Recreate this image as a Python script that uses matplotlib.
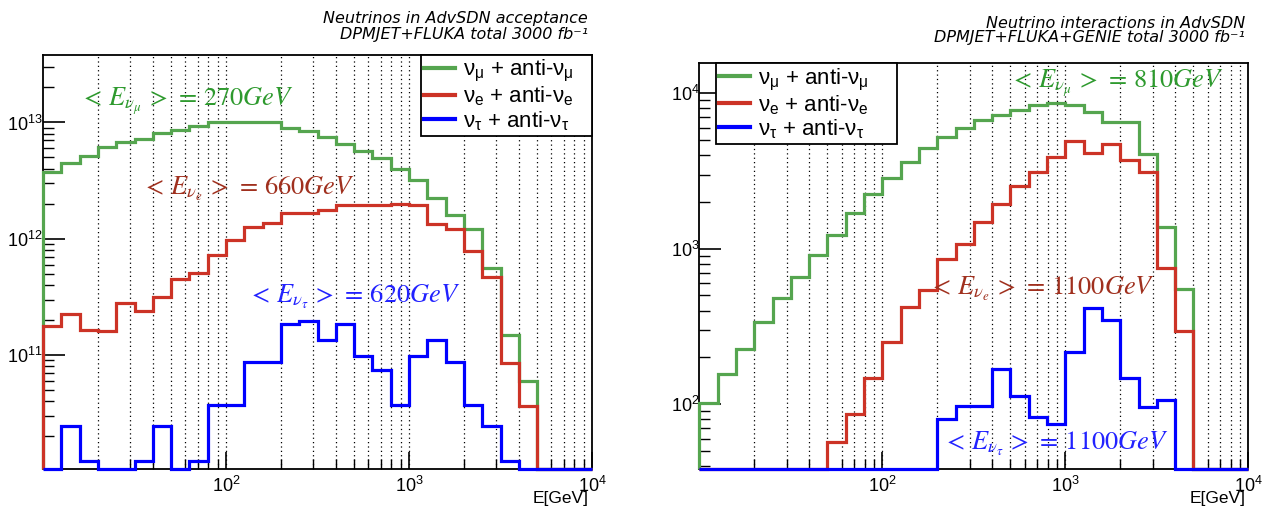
import numpy as np
import matplotlib
matplotlib.use("Agg")
import matplotlib.pyplot as plt
from matplotlib.lines import Line2D
from matplotlib.ticker import LogLocator, FixedLocator, NullFormatter

plt.rcParams['font.family'] = ['Liberation Sans', 'DejaVu Sans']
plt.rcParams['mathtext.fontset'] = 'custom'
plt.rcParams['mathtext.rm'] = 'Liberation Sans'
plt.rcParams['mathtext.it'] = 'Liberation Sans:italic'

# Energy binning: 30 log-uniform bins from 10 GeV to 10 TeV
edges = np.logspace(1, 4, 31)

# Neutrinos in acceptance (left panel)
flux_numu = [3.72e12, 4.48e12, 5.18e12, 6.10e12, 6.78e12, 7.25e12, 8.11e12, 8.65e12,
             9.37e12, 1.0e13, 1.0e13, 1.0e13, 1.0e13, 8.95e12, 8.45e12, 7.43e12,
             6.52e12, 5.71e12, 4.94e12, 3.97e12, 3.17e12, 2.24e12, 1.61e12, 1.21e12,
             5.6e11, 1.49e11, 6.0e10, 0, 0, 0]
flux_nue = [1.79e11, 2.25e11, 1.66e11, 1.61e11, 2.79e11, 2.41e11, 3.18e11, 4.48e11,
            5.05e11, 7.26e11, 9.8e11, 1.27e12, 1.38e12, 1.66e12, 1.68e12, 1.77e12,
            1.96e12, 1.96e12, 1.96e12, 2.0e12, 1.96e12, 1.35e12, 1.21e12, 7.8e11,
            4.7e11, 8.6e10, 3.66e10, 0, 0, 0]
flux_nutau = [0, 2.47e10, 1.24e10, 0, 0, 1.24e10, 2.47e10, 0, 1.24e10, 3.7e10,
              3.7e10, 8.65e10, 8.65e10, 1.85e11, 1.98e11, 1.36e11, 1.85e11, 9.9e10,
              7.4e10, 3.7e10, 9.9e10, 1.36e11, 8.65e10, 3.7e10, 2.47e10, 1.24e10,
              0, 0, 0, 0]

# Neutrino interactions (right panel)
int_numu = [102, 155, 226, 339, 479, 660, 909, 1224, 1688, 2235, 2835, 3625, 4420,
            5230, 5980, 6730, 7245, 7810, 8410, 8630, 8410, 7620, 6560, 6560, 4045,
            1387, 550, 0, 0, 0]
int_nue = [0, 0, 0, 0, 0, 0, 0, 57, 86, 148, 252, 423, 542, 862, 1072, 1492, 1940,
           2543, 3130, 3910, 4950, 4110, 4725, 3725, 3130, 748, 295, 0, 0, 0]
int_nutau = [0, 0, 0, 0, 0, 0, 0, 0, 0, 0, 0, 0, 0, 80, 97.5, 97.5, 168, 113, 83,
             74, 217, 417, 347, 147.5, 96, 106, 0, 0, 0, 0]

labels = [r"$\mathrm{\nu_{\mu}}$ + anti-$\mathrm{\nu_{\mu}}$",
          r"$\mathrm{\nu_{e}}$ + anti-$\mathrm{\nu_{e}}$",
          r"$\mathrm{\nu_{\tau}}$ + anti-$\mathrm{\nu_{\tau}}$"]
line_colors = ["#55a54f", "#cc3326", "#0000ff"]
text_colors = ["#2e9a2e", "#a0301e", "#2222ff"]

W, H = 1263, 507
fig = plt.figure(figsize=(W / 100, H / 100), dpi=100)

ax_l = fig.add_axes([43 / W, 38 / H, 549 / W, 414 / H])
ax_r = fig.add_axes([699.3 / W, 38 / H, 549 / W, 405.7 / H])


def style_axes(ax, ymin, ymax, label_right_px):
    ax.set_xscale('log')
    ax.set_yscale('log')
    ax.set_xlim(10, 1e4)
    ax.set_ylim(ymin, ymax)
    for s in ax.spines.values():
        s.set_linewidth(1.3)
    ax.tick_params(which='both', direction='in', top=False, right=False,
                   labelsize=13, pad=3)
    ax.tick_params(axis='y', which='major', length=16, width=1.2, pad=0)
    ax.tick_params(axis='y', which='minor', length=8, width=1.0)
    ax.tick_params(axis='x', which='major', length=12, width=1.2, pad=5)
    ax.tick_params(axis='x', which='minor', length=7, width=1.0)
    ax.xaxis.set_major_locator(FixedLocator([1e2, 1e3, 1e4]))
    ax.xaxis.set_minor_locator(LogLocator(base=10, subs=np.arange(2, 10), numticks=20))
    ax.xaxis.set_minor_formatter(NullFormatter())
    ax.yaxis.set_minor_locator(LogLocator(base=10, subs=np.arange(2, 10), numticks=20))
    ax.yaxis.set_minor_formatter(NullFormatter())
    # vertical dotted grid at every major and minor x position
    gx = [m * 10 ** d for d in range(1, 4) for m in range(1, 10)][1:] + [1e4]
    for g in gx:
        ax.axvline(g, color='black', lw=0.9, ls=(0, (1, 2.5)), zorder=0.5)
    # x-axis title, right-aligned under the axis end
    fig.text(label_right_px / W, 1 - 499 / H, "E[GeV]", fontsize=12.5,
             ha='right', va='center')


def draw_hist(ax, series, ymin):
    for vals, col in zip(series, line_colors):
        v = np.asarray(vals, dtype=float)
        v = np.where(v > 0, v, ymin)
        ax.stairs(v, edges, baseline=ymin, color=col, lw=2.3, clip_on=False,
                  zorder=3)


# Left panel
yl_min, yl_max = 1.05e10, 3.8e13
style_axes(ax_l, yl_min, yl_max, 589)
draw_hist(ax_l, [flux_numu, flux_nue, flux_nutau], yl_min)

# Right panel
yr_min, yr_max = 38.2, 1.56e4
style_axes(ax_r, yr_min, yr_max, 1246)
draw_hist(ax_r, [int_numu, int_nue, int_nutau], yr_min)

# Legends (boxes expanded horizontally, entries left-aligned)
handles = [Line2D([], [], color=c, lw=3) for c in line_colors]
leg_common = dict(loc='upper left', mode='expand', borderaxespad=0,
                  fancybox=False, edgecolor='black', framealpha=1,
                  handlelength=1.4, handletextpad=0.36, labelspacing=0.02,
                  borderpad=0.15, fontsize=16)
leg_l = ax_l.legend(handles, labels, bbox_to_anchor=(0.6885, 0.8, 0.3115, 0.2),
                    **leg_common)
leg_l.get_frame().set_linewidth(1.3)
leg_r = ax_r.legend(handles, labels, bbox_to_anchor=(0.030, 0.8, 0.330, 0.2),
                    **leg_common)
leg_r.get_frame().set_linewidth(1.3)


# Mean energy annotations
def annotate(x, y, s, color):
    fig.text(x / W, 1 - y / H, s, color=color, fontsize=19,
             math_fontfamily='stix', ha='left', va='baseline', zorder=5)


annotate(80, 106, r"$<\,E_{\nu_{\mu}}\,>\,=\,270GeV$", text_colors[0])
annotate(142, 195, r"$<\,E_{\nu_{e}}\,>\,=\,660GeV$", text_colors[1])
annotate(248, 303, r"$<\,E_{\nu_{\tau}}\,>\,=\,620GeV$", text_colors[2])
annotate(1010, 88, r"$<\,E_{\nu_{\mu}}\,>\,=\,810GeV$", text_colors[0])
annotate(929, 295, r"$<\,E_{\nu_{e}}\,>\,=\,1100GeV$", text_colors[1])
annotate(943, 450, r"$<\,E_{\nu_{\tau}}\,>\,=\,1100GeV$", text_colors[2])

# Titles
title_kw = dict(fontsize=11.5, family='DejaVu Sans', style='italic', ha='right',
                va='center')
fig.text(588 / W, 1 - 19 / H, "Neutrinos in AdvSDN acceptance", **title_kw)
fig.text(588 / W, 1 - 34 / H, "DPMJET+FLUKA total 3000 fb\u207b\u00b9", **title_kw)
fig.text(1245 / W, 1 - 23 / H, "Neutrino interactions in AdvSDN", **title_kw)
fig.text(1245 / W, 1 - 38 / H, "DPMJET+FLUKA+GENIE total 3000 fb\u207b\u00b9", **title_kw)

fig.savefig("out.png", dpi=100)
